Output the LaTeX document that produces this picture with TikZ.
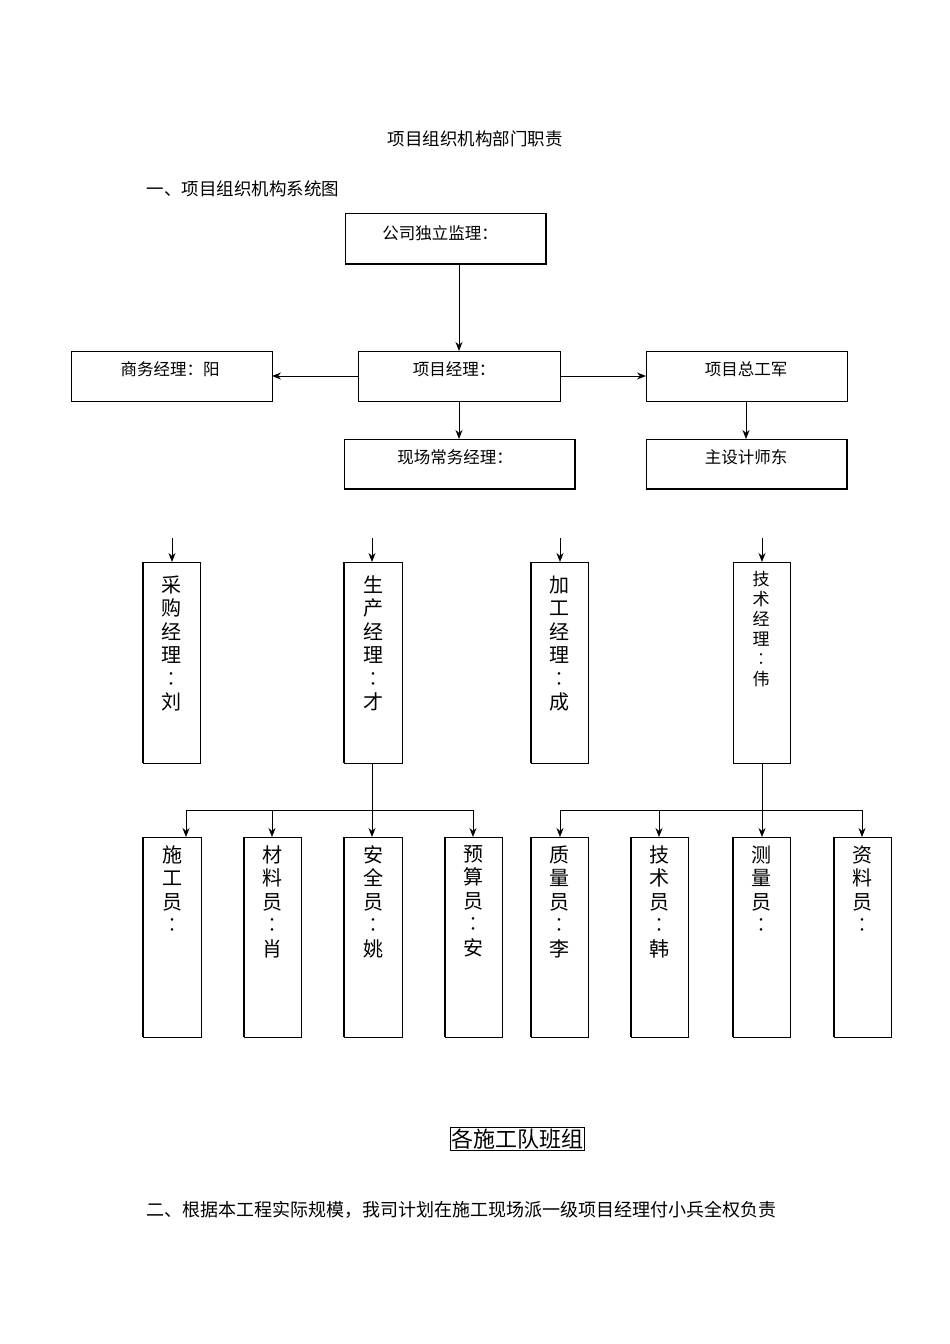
\documentclass[tikz,border=0pt]{standalone}
\usepackage{fontspec}
\setmainfont{Noto Sans CJK SC}
\usetikzlibrary{arrows.meta}
\begin{document}
\begin{tikzpicture}[x=1pt,y=-1pt,
 bx/.style={draw,line width=1pt,inner sep=0},
 vb/.style={draw,line width=1pt},
 ar/.style={-{Stealth[length=9pt,width=7pt]},line width=1pt},
 ln/.style={line width=1pt},
 lbl/.style={font=\fontsize{16.5}{18}\selectfont},
 vt/.style={font=\fontsize{20}{23.5}\selectfont,align=center,anchor=north}]
\useasboundingbox (0,0) rectangle (950,1344);
\node[font=\fontsize{17.5}{19}\selectfont] (t1) at (475,139) {项目组织机构部门职责};
\node[font=\fontsize{17.5}{19}\selectfont,anchor=west] (t2) at (143,189) {一、项目组织机构系统图};
% top boxes
\draw[bx] (345,213) rectangle (546,264); \draw[line width=2pt] (546,213)--(546,264)--(345,264);
\node[lbl] (a) at (440,233) {公司独立监理：};
\draw[bx] (358,351) rectangle (560,401); \node[lbl] (pm) at (454,369) {项目经理：};
\draw[bx] (71,351) rectangle (272,401); \node[lbl] (sw) at (170,369) {商务经理：阳};
\draw[bx] (646,351) rectangle (847,401); \node[lbl] (zg) at (746,369) {项目总工军};
\draw[bx] (344,439) rectangle (575,489); \draw[line width=2pt] (575,439)--(575,489)--(344,489);
\node[lbl] (xc) at (455,457) {现场常务经理：};
\draw[bx] (646,439) rectangle (847,489); \draw[line width=2pt] (847,439)--(847,489)--(646,489);
\node[lbl] (sj) at (746,457) {主设计师东};
\coordinate (c1) at (459,264); \coordinate (c2) at (459,351);
\draw[ar] (c1)--(c2);
\draw[ar] (358,376)--(272,376);
\draw[ar] (560,376)--(646,376);
\draw[ar] (459,401)--(459,439);
\draw[ar] (746,401)--(746,439);
\foreach \x in {172,372,560,762} \draw[ar] (\x,538)--(\x,562);
% mid vertical boxes
\foreach \l/\r/\t in {143/200/{采\\购\\经\\理\\︰\\刘},344/402/{生\\产\\经\\理\\︰\\才},531/588/{加\\工\\经\\理\\︰\\成}}{
 \draw[vb] (\l,562) rectangle (\r,763); \draw[line width=2pt] (\l,562)--(\l,763);
 \node[vt] at ({(\l+\r)/2},572) {\t};}
\draw[vb] (733,562) rectangle (790,763);
\node[vt,font=\fontsize{17}{20}\selectfont] at (761,568) {技\\术\\经\\理\\︰\\伟};
% connectors
\draw[ln] (372,763)--(372,810); \draw[ln] (186,810)--(473,810);
\foreach \x in {186,272,372,473} \draw[ar] (\x,810)--(\x,837);
\draw[ln] (762,763)--(762,810); \draw[ln] (560,810)--(862,810);
\foreach \x in {560,659,762,862} \draw[ar] (\x,810)--(\x,837);
% bottom boxes
\foreach \l/\r/\t in {143/201/{施\\工\\员\\︰},244/301/{材\\料\\员\\︰\\肖},344/402/{安\\全\\员\\︰\\姚},445/502/{预\\算\\员\\︰\\安},531/588/{质\\量\\员\\︰\\李},631/688/{技\\术\\员\\︰\\韩},733/790/{测\\量\\员\\︰},834/891/{资\\料\\员\\︰}}{
 \draw[vb] (\l,837) rectangle (\r,1037); \draw[line width=2pt] (\l,837)--(\l,1037);
 \node[vt] at ({(\l+\r)/2},842) {\t};}
\node[draw,line width=0.6pt,inner sep=1pt,font=\fontsize{22}{24}\selectfont] (bt) at (517,1139) {各施工队班组};
\node[font=\fontsize{18}{20}\selectfont,anchor=west] (t3) at (143,1210) {二、根据本工程实际规模，我司计划在施工现场派一级项目经理付小兵全权负责};
\end{tikzpicture}
\end{document}
